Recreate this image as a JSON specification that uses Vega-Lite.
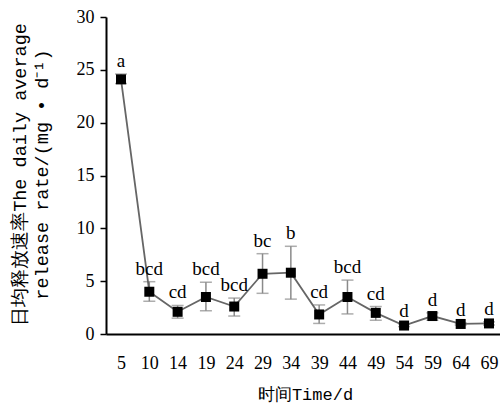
{
  "$schema": "https://vega.github.io/schema/vega-lite/v6.json",
  "autosize": "none",
  "width": 398,
  "height": 317,
  "padding": {"left": 106, "top": 17, "right": 0, "bottom": 70},
  "background": "white",
  "config": {"view": {"stroke": null}},
  "data": {"values": [
    {"day": "5", "mean": 24.1, "lo": 23.7, "hi": 24.6, "label": "a"},
    {"day": "10", "mean": 4.0, "lo": 3.1, "hi": 4.95, "label": "bcd"},
    {"day": "14", "mean": 2.1, "lo": 1.5, "hi": 2.7, "label": "cd"},
    {"day": "19", "mean": 3.5, "lo": 2.2, "hi": 4.9, "label": "bcd"},
    {"day": "24", "mean": 2.6, "lo": 1.7, "hi": 3.4, "label": "bcd"},
    {"day": "29", "mean": 5.7, "lo": 3.85, "hi": 7.6, "label": "bc"},
    {"day": "34", "mean": 5.8, "lo": 3.3, "hi": 8.3, "label": "b"},
    {"day": "39", "mean": 1.85, "lo": 1.0, "hi": 2.75, "label": "cd"},
    {"day": "44", "mean": 3.5, "lo": 1.9, "hi": 5.1, "label": "bcd"},
    {"day": "49", "mean": 2.0, "lo": 1.3, "hi": 2.6, "label": "cd"},
    {"day": "54", "mean": 0.8, "lo": 0.7, "hi": 0.95, "label": "d"},
    {"day": "59", "mean": 1.7, "lo": 1.3, "hi": 2.0, "label": "d"},
    {"day": "64", "mean": 0.95, "lo": 0.85, "hi": 1.05, "label": "d"},
    {"day": "69", "mean": 1.0, "lo": 0.85, "hi": 1.15, "label": "d"}
  ]},
  "encoding": {
    "x": {
      "field": "day", "type": "ordinal", "sort": null,
      "scale": {"type": "point", "padding": 0.53},
      "axis": {
        "title": "时间Time/d", "labelAngle": 0, "ticks": false,
        "domainColor": "black", "domainWidth": 2,
        "labelFont": "Liberation Serif", "labelFontSize": 18, "labelColor": "black",
        "labelPadding": 20,
        "titleFont": "Liberation Mono", "titleFontSize": 17, "titleFontWeight": "normal",
        "titleColor": "black", "titlePadding": 14
      }
    }
  },
  "layer": [
    {
      "mark": {"type": "rule", "color": "#8a8a8a", "strokeWidth": 1.5},
      "encoding": {
        "y": {"field": "lo", "type": "quantitative"},
        "y2": {"field": "hi"}
      }
    },
    {
      "mark": {"type": "tick", "color": "#8a8a8a", "size": 12, "thickness": 1.5},
      "encoding": {"y": {"field": "lo", "type": "quantitative"}}
    },
    {
      "mark": {"type": "tick", "color": "#8a8a8a", "size": 12, "thickness": 1.5},
      "encoding": {"y": {"field": "hi", "type": "quantitative"}}
    },
    {
      "mark": {"type": "line", "color": "#666666", "strokeWidth": 1.8},
      "encoding": {
        "y": {
          "field": "mean", "type": "quantitative",
          "scale": {"domain": [0, 30], "nice": false},
          "axis": {
            "values": [0, 5, 10, 15, 20, 25, 30],
            "grid": false, "tickSize": 6, "tickColor": "black", "tickWidth": 1.5,
            "domainColor": "black", "domainWidth": 2,
            "labelFont": "Liberation Serif", "labelFontSize": 18, "labelColor": "black",
            "labelPadding": 6,
            "title": ["日均释放速率The daily average", "release rate/(mg • d⁻¹)"],
            "titleFont": "Liberation Mono", "titleFontSize": 18.5, "titleFontWeight": "normal",
            "titleColor": "black", "titlePadding": 25, "titleLineHeight": 22, "titleY": 157
          }
        }
      }
    },
    {
      "mark": {"type": "square", "color": "black", "opacity": 1, "size": 100},
      "encoding": {"y": {"field": "mean", "type": "quantitative"}}
    },
    {
      "mark": {"type": "text", "font": "Liberation Serif", "fontSize": 19, "color": "black", "baseline": "bottom", "dy": -3},
      "encoding": {
        "y": {"field": "hi", "type": "quantitative"},
        "text": {"field": "label"}
      }
    }
  ]
}
